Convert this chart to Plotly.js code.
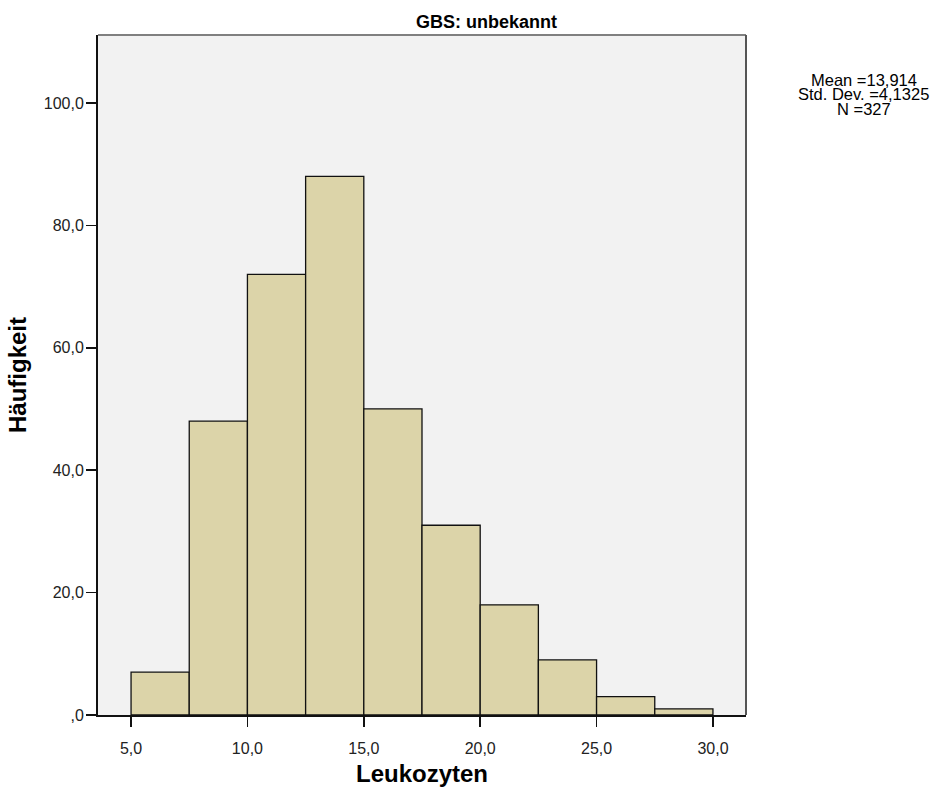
<!DOCTYPE html>
<html>
<head>
<meta charset="utf-8">
<script src="https://cdn.plot.ly/plotly-3.0.1.min.js"></script>
<style>html,body{margin:0;padding:0;background:#fff;}#chart{width:939px;height:791px;}</style>
</head>
<body>
<div id="chart"></div>
<script>
const binCenters = [6.25, 8.75, 11.25, 13.75, 16.25, 18.75, 21.25, 23.75, 26.25, 28.75];
const binWidth = 2.5;
const counts = [7, 48, 72, 88, 50, 31, 18, 9, 3, 1];
const xTickVals = [5, 10, 15, 20, 25, 30];
const xTickText = ["5,0", "10,0", "15,0", "20,0", "25,0", "30,0"];
const yTickVals = [0, 20, 40, 60, 80, 100];
const yTickText = [",0", "20,0", "40,0", "60,0", "80,0", "100,0"];
const statsLines = ["Mean =13,914", "Std. Dev. =4,1325", "N =327"];

const font = "Liberation Sans, Arial, sans-serif";

const trace = {
  type: "bar",
  x: binCenters,
  y: counts,
  width: binCenters.map(() => binWidth),
  marker: { color: "#dcd4a9", line: { color: "#111", width: 1.3 } },
  hoverinfo: "x+y"
};

const annotations = statsLines.map((t, i) => ({
  text: t, xref: "paper", yref: "paper", x: 1.182, y: 1,
  yshift: -(44.5 + i * 14.5),
  xanchor: "center", yanchor: "middle", showarrow: false,
  font: { family: font, size: 16.5, color: "#000" }
}));
annotations.push({
  text: "<b>GBS: unbekannt</b>", xref: "paper", yref: "paper", x: 0.599, y: 1,
  yshift: 13, xanchor: "center", yanchor: "middle", showarrow: false,
  font: { family: font, size: 18, color: "#000" }
});

const layout = {
  width: 939, height: 791,
  margin: { l: 98, r: 193, t: 35, b: 76 },
  paper_bgcolor: "#fff",
  plot_bgcolor: "#f2f2f2",
  showlegend: false,
  bargap: 0,
  xaxis: {
    range: [3.58, 31.42],
    tickvals: xTickVals, ticktext: xTickText,
    ticks: "outside", ticklen: 10, tickcolor: "#111", tickwidth: 1.5,
    ticklabelstandoff: 8,
    showgrid: false, zeroline: false,
    showline: true, linecolor: "#111", linewidth: 2,
    tickfont: { family: font, size: 16, color: "#222" },
    title: { text: "<b>Leukozyten</b>", font: { family: font, size: 24, color: "#000" }, standoff: 9 }
  },
  yaxis: {
    range: [0, 111.1],
    tickvals: yTickVals, ticktext: yTickText,
    ticks: "outside", ticklen: 10, tickcolor: "#111", tickwidth: 1.5,
    ticklabelstandoff: -1,
    showgrid: false, zeroline: false,
    showline: true, linecolor: "#111", linewidth: 2,
    tickfont: { family: font, size: 16, color: "#222" },
    title: { text: "<b>Häufigkeit</b>", font: { family: font, size: 24, color: "#000" }, standoff: 10 }
  },
  shapes: [
    { type: "line", xref: "paper", yref: "paper", x0: 0, x1: 1, y0: 1, y1: 1, line: { color: "#808080", width: 2 } },
    { type: "line", xref: "paper", yref: "paper", x0: 1, x1: 1, y0: 0, y1: 1, line: { color: "#555", width: 2 } }
  ],
  annotations: annotations
};

Plotly.newPlot("chart", [trace], layout, { displayModeBar: false, staticPlot: true });
</script>
</body>
</html>
